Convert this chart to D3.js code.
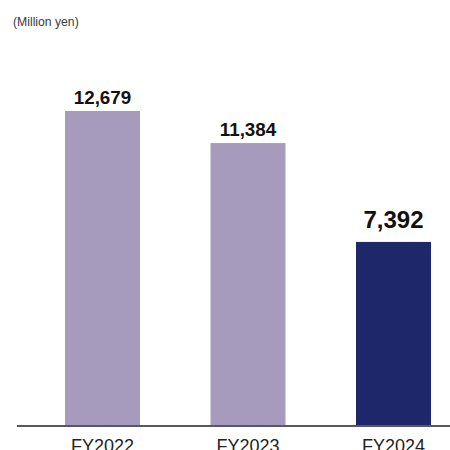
<!DOCTYPE html>
<html>
<head>
<meta charset="utf-8">
<script src="https://cdn.jsdelivr.net/npm/d3@7"></script>
<style>
  html, body { margin: 0; padding: 0; background: #fff; }
  svg { display: block; }
</style>
</head>
<body>
<svg id="chart" width="450" height="450"></svg>
<script>
// Net income by fiscal year (million yen)
const categories = ["FY2022", "FY2023", "FY2024"];
const values = [12679, 11384, 7392];
const valueLabels = ["12,679", "11,384", "7,392"];
const unitLabel = "(Million yen)";

const barColors = ["#a69bbd", "#a69bbd", "#1f276b"];
const fontFamily = "'Liberation Sans', Arial, Helvetica, sans-serif";

const svg = d3.select("#chart");
const baseY = 425;

const x = d3.scaleBand()
  .domain(categories)
  .range([65, 431])
  .paddingInner(0.4845)
  .paddingOuter(0);

const y = d3.scaleLinear()
  .domain([0, 12679])
  .range([baseY, 111]);

// unit caption
svg.append("text")
  .attr("x", 13)
  .attr("y", 26)
  .attr("font-family", fontFamily)
  .attr("font-size", 12.2)
  .attr("fill", "#3a3a3a")
  .text(unitLabel);

// bars
svg.selectAll("rect.bar")
  .data(values)
  .join("rect")
  .attr("class", "bar")
  .attr("x", (d, i) => x(categories[i]))
  .attr("width", x.bandwidth())
  .attr("y", d => y(d))
  .attr("height", d => baseY - y(d))
  .attr("fill", (d, i) => barColors[i]);

// value labels; latest year emphasised
svg.selectAll("text.val")
  .data(values)
  .join("text")
  .attr("class", "val")
  .attr("x", (d, i) => x(categories[i]) + x.bandwidth() / 2)
  .attr("y", (d, i) => y(d) - (i === 2 ? 14 : 7.5))
  .attr("text-anchor", "middle")
  .attr("font-family", fontFamily)
  .attr("font-weight", "bold")
  .attr("font-size", (d, i) => i === 2 ? 24 : 18.8)
  .attr("fill", "#111")
  .text((d, i) => valueLabels[i]);

// baseline axis with category labels
const axis = d3.axisBottom(x).tickSize(0).tickPadding(0);
const gAxis = svg.append("g")
  .attr("transform", `translate(0,${baseY})`)
  .call(axis);
gAxis.select(".domain").remove();
gAxis.append("line")
  .attr("x1", 17).attr("x2", 450)
  .attr("y1", 1).attr("y2", 1)
  .attr("stroke", "#222")
  .attr("stroke-width", 1.6);
gAxis.selectAll(".tick text")
  .attr("dy", null)
  .attr("y", 26.5)
  .attr("font-family", fontFamily)
  .attr("font-size", 18)
  .attr("fill", "#222");
</script>
</body>
</html>
